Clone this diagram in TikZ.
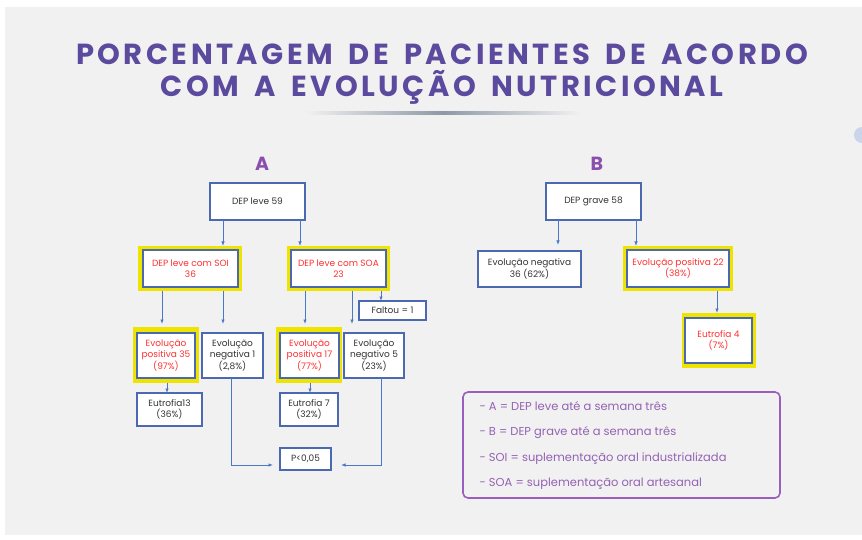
\documentclass[tikz,border=0pt]{standalone}
\usepackage{fontspec}
\setmainfont{Poppins}
\newfontfamily\popp{Poppins}
\newfontfamily\poppwide{Poppins}[LetterSpace=12,WordSpace=1.6]
\usetikzlibrary{arrows.meta,calc}
\definecolor{bgc}{HTML}{F1F1F1}
\definecolor{titlec}{HTML}{5B4A9E}
\definecolor{letc}{HTML}{8A4FAE}
\definecolor{boxblue}{HTML}{4A69B0}
\definecolor{arrblue}{HTML}{4A78C8}
\definecolor{hlyellow}{HTML}{EEE400}
\definecolor{redt}{HTML}{FF3030}
\definecolor{txt}{HTML}{333333}
\definecolor{legc}{HTML}{9A5FBE}
\definecolor{legt}{HTML}{9462B4}
\definecolor{shadowc}{HTML}{8E99A6}
\definecolor{dotc}{HTML}{C9D5E8}
\tikzset{
  box/.style={draw=boxblue, line width=1.1pt, fill=white, inner sep=1pt, outer sep=0pt,
    align=center, text=txt, font=\popp\fontsize{9}{10.5}\selectfont},
  hot/.style={box, text=redt},
  hl/.style={fill=hlyellow, draw=none, inner sep=0pt, outer sep=0pt},
  arr/.style={draw=arrblue, line width=0.8pt, -{Latex[length=4.5pt,width=3.5pt]}},
}
\begin{document}
\begin{tikzpicture}[x=1pt,y=-1pt]
\useasboundingbox (0,0) rectangle (862,540);
\fill[white] (0,0) rectangle (862,540);
\fill[bgc] (5,7) rectangle (862,535);
\fill[dotc] (862,135) circle (8);
% title
\node[font=\poppwide\bfseries\fontsize{29}{32}\selectfont, text=titlec, align=center] (title) at (442,74.5)
  {PORCENTAGEM DE PACIENTES DE ACORDO\\COM A EVOLUÇÃO NUTRICIONAL};
\shade[left color=bgc, right color=bgc, middle color=shadowc] (305,112) rectangle (580,115);
% section letters
\node[font=\popp\bfseries\fontsize{19}{20}\selectfont, text=letc] (la) at (262,164) {A};
\node[font=\popp\bfseries\fontsize{19}{20}\selectfont, text=letc] (lb) at (597,164) {B};
% A tree
\node[box, minimum width=95, minimum height=37] (top59) at (257.5,201.5) {DEP leve 59};
\node[hl, minimum width=104, minimum height=45] (soiY) at (190,268.5) {};
\node[hot, minimum width=95, minimum height=37] (soi) at (190.5,268.5) {DEP leve com SOI\\36};
\node[hl, minimum width=103, minimum height=45] (soaY) at (338.5,268.5) {};
\node[hot, minimum width=95, minimum height=37] (soa) at (338.5,268.5) {DEP leve com SOA\\23};
\node[box, minimum width=67, minimum height=19] (faltou) at (392.5,310.5) {Faltou = 1};
\node[hl, minimum width=66, minimum height=56] (p35Y) at (166,355) {};
\node[hot, minimum width=58, minimum height=45] (p35) at (166,355.5) {Evolução\\positiva 35\\(97\%)};
\node[box, minimum width=61, minimum height=45] (n1) at (232.5,355.5) {Evolução\\negativa 1\\(2,8\%)};
\node[hl, minimum width=66, minimum height=56] (p17Y) at (309,355) {};
\node[hot, minimum width=59, minimum height=45] (p17) at (309.5,355.5) {Evolução\\positiva 17\\(77\%)};
\node[box, minimum width=60, minimum height=45] (n5) at (374,355.5) {Evolução\\negativo 5\\(23\%)};
\node[box, minimum width=65, minimum height=33] (e13) at (169.5,409.5) {Eutrofia13\\(36\%)};
\node[box, minimum width=58, minimum height=33] (e7) at (309,409.5) {Eutrofia 7\\(32\%)};
\node[box, minimum width=51, minimum height=22] (pv) at (305.5,459) {P<0,05};
% A arrows
\draw[arr] ([xshift=-34.5pt]top59.south) -- ([xshift=-34.5pt]top59.south |- soiY.north);
\draw[arr] ([xshift=42.5pt]top59.south) -- ([xshift=42.5pt]top59.south |- soaY.north);
\draw[arr, shorten >=3pt] ([xshift=-28pt]soiY.south) -- ([xshift=-28pt]soiY.south |- p35Y.north);
\draw[arr, shorten >=9pt] ([xshift=33pt]soiY.south) -- ([xshift=33pt]soiY.south |- n1.north);
\draw[arr, shorten >=3pt] ([xshift=-33.5pt]soaY.south) -- ([xshift=-33.5pt]soaY.south |- p17Y.north);
\draw[arr, shorten >=9pt] ([xshift=13.5pt]soaY.south) -- ([xshift=13.5pt]soaY.south |- n5.north);
\draw[arr] ([xshift=42.5pt]soaY.south) -- ([xshift=42.5pt]soaY.south |- faltou.north);
\draw[arr] ([xshift=1pt]p35Y.south) -- ([xshift=1pt]p35Y.south |- e13.north);
\draw[arr] ([xshift=1pt]p17Y.south) -- ([xshift=1pt]p17Y.south |- e7.north);
\draw[arr, shorten >=7pt] ([xshift=-1.5pt]n1.south) |- ([yshift=-6pt]pv.west);
\draw[arr, shorten >=10pt] ([xshift=7pt]n5.south) |- ([yshift=-6pt]pv.east);
% B tree
\node[box, minimum width=95, minimum height=37] (top58) at (593.5,201.5) {DEP grave 58};
\node[box, minimum width=103, minimum height=36] (nB) at (529.5,269) {Evolução negativa\\36 (62\%)};
\node[hl, minimum width=110, minimum height=45] (p22Y) at (678,268.5) {};
\node[hot, minimum width=102, minimum height=37] (p22) at (678,268.5) {Evolução positiva 22\\(38\%)};
\node[hl, minimum width=74, minimum height=55] (e4Y) at (719,340.5) {};
\node[hot, minimum width=67, minimum height=45] (e4) at (718.5,340.5) {Eutrofia 4\\(7\%)};
\draw[arr, shorten >=6pt] ([xshift=-35.5pt]top58.south) -- ([xshift=-35.5pt]top58.south |- nB.north);
\draw[arr] ([xshift=42.5pt]top58.south) -- ([xshift=42.5pt]top58.south |- p22Y.north);
\draw[arr] ([xshift=39pt]p22Y.south) -- ([xshift=39pt]p22Y.south |- e4Y.north);
% legend
\node[draw=legc, line width=1.6pt, rounded corners=5pt, minimum width=317, minimum height=106,
  inner sep=0pt] (leg) at (621.5,445) {};
\node[anchor=west, text=legt, font=\popp\fontsize{11.5}{14}\selectfont, align=left] (legtxt) at (476,445.5)
  {- A = DEP leve até a semana três\\[11.2pt]- B = DEP grave até a semana três\\[11.2pt]- SOI = suplementação oral industrializada\\[11.2pt]- SOA = suplementação oral artesanal};
\end{tikzpicture}
\end{document}
